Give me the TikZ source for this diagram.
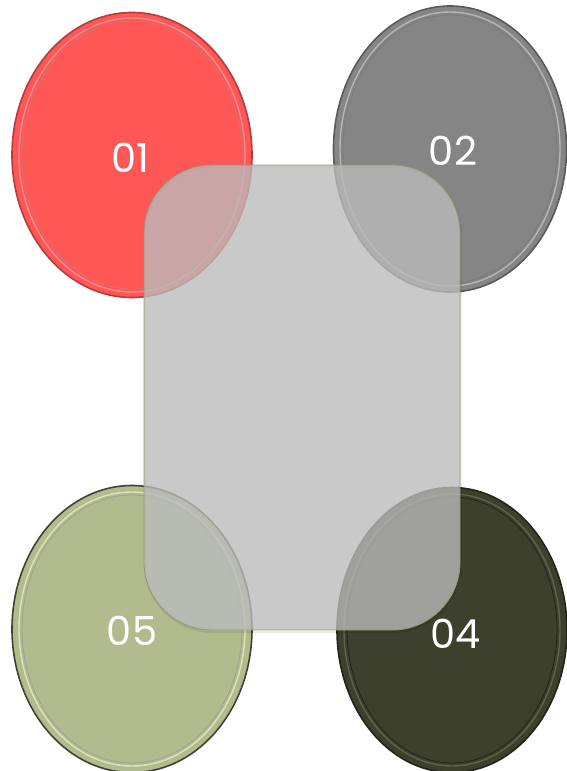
\documentclass[tikz,border=0pt]{standalone}
\usepackage{fontspec}
\setmainfont{Poppins}
\usetikzlibrary{shapes.geometric}
\definecolor{cred}{HTML}{FF5656}
\definecolor{credd}{HTML}{B83A3A}
\definecolor{credl}{HTML}{FF8A8A}
\definecolor{cgry}{HTML}{858585}
\definecolor{cgryd}{HTML}{5A5A5A}
\definecolor{cgryl}{HTML}{B5B5B5}
\definecolor{cgrn}{HTML}{B1BB8D}
\definecolor{cgrnd}{HTML}{3E4430}
\definecolor{cgrnl}{HTML}{DCE4B6}
\definecolor{cdrk}{HTML}{3D402D}
\definecolor{cdrkd}{HTML}{22241A}
\definecolor{cdrkl}{HTML}{5E624A}
\definecolor{cbox}{HTML}{BBBBBB}
\definecolor{cboxe}{HTML}{9C9676}
\tikzset{
  x=1pt,y=-1pt,
  disc/.style={ellipse,inner sep=0pt,line width=1.6pt,text=white,
    font=\fontsize{40}{40}\selectfont},
  lbl/.style={text=white,font=\fontsize{40}{40}\selectfont},
  rim/.style={line width=1.4pt},
  panel/.style={draw=cboxe,line width=0.9pt,fill=cbox,fill opacity=0.79,
    rounded corners=68pt},
  panelshadow/.style={draw=black,line width=2pt,draw opacity=0.08,rounded corners=68pt}
}
\begin{document}
\begin{tikzpicture}
\useasboundingbox (0,0) rectangle (567,771);
% disc 01
\node[disc,fill=cred,draw=credd,minimum width=240pt,minimum height=285pt] (d1) at (132,155) {};
\draw[rim,credl] (d1.center) ellipse [x radius=113, y radius=137];
\draw[line width=0.8pt,credd!70] (d1.center) ellipse [x radius=110, y radius=134];
\node[lbl] (t1) at (130,158) {01};
% disc 02
\node[disc,fill=cgry,draw=cgryd,minimum width=233pt,minimum height=286pt] (d2) at (450,149) {};
\draw[rim,cgryl] (d2.center) ellipse [x radius=110, y radius=137];
\draw[line width=0.8pt,cgryd!80] (d2.center) ellipse [x radius=107, y radius=134];
\node[lbl] (t2) at (453,151) {02};
% disc 05
\node[disc,fill=cgrn,draw=cgrnd,minimum width=240pt,minimum height=287pt] (d5) at (132,629) {};
\draw[rim,cgrnl] (d5.center) ellipse [x radius=113, y radius=137];
\draw[line width=0.8pt,cgrnd!50] (d5.center) ellipse [x radius=110, y radius=134];
\node[lbl] (t5) at (132,631) {05};
% disc 04
\node[disc,fill=cdrk,draw=cdrkd,minimum width=230pt,minimum height=285pt] (d4) at (452,630) {};
\draw[rim,cdrkl] (d4.center) ellipse [x radius=108, y radius=136];
\draw[line width=0.8pt,cdrkd] (d4.center) ellipse [x radius=105, y radius=133];
\node[lbl] (t4) at (456,634) {04};
% central panel
\draw[panelshadow] (145,167) rectangle (461,632);
\draw[panel] (144,165) rectangle (460,630);
\end{tikzpicture}
\end{document}
